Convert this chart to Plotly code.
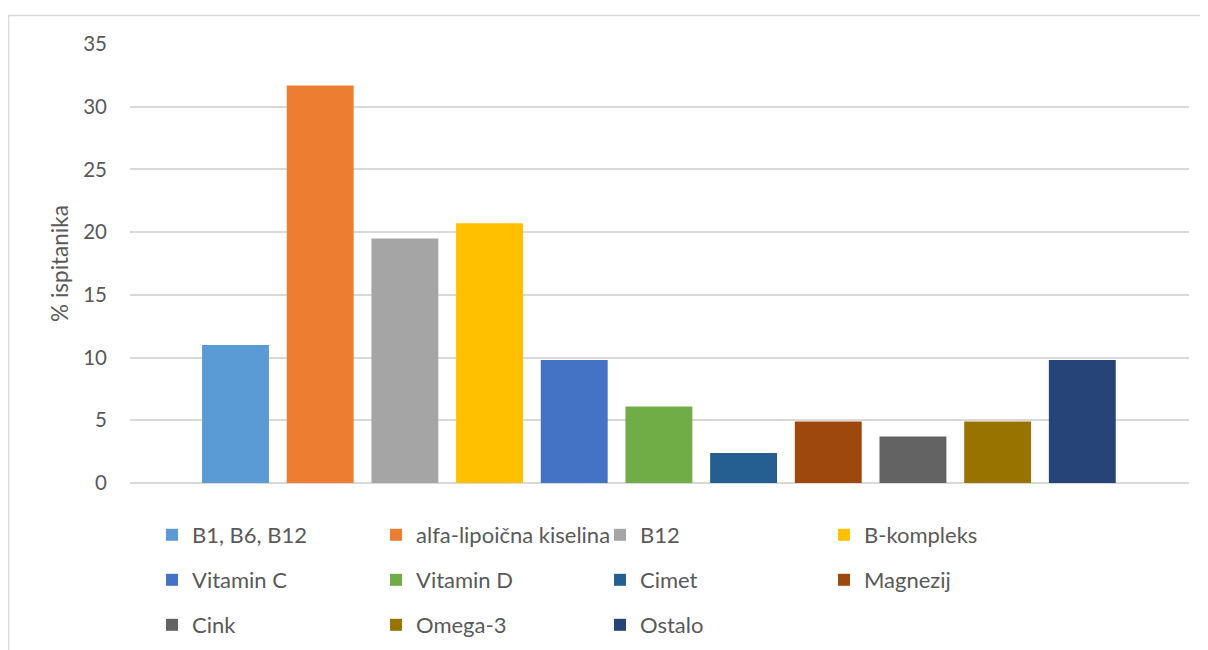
import plotly.graph_objects as go

# Data
categories = ["B1, B6, B12", "alfa-lipoična kiselina", "B12", "B-kompleks",
              "Vitamin C", "Vitamin D", "Cimet", "Magnezij",
              "Cink", "Omega-3", "Ostalo"]
values = [11.0, 31.7, 19.5, 20.7, 9.8, 6.1, 2.4, 4.9, 3.7, 4.9, 9.8]
bar_colors = ["#5B9BD5", "#ED7D31", "#A5A5A5", "#FFC000", "#4472C4", "#70AD47",
              "#255E91", "#9E480E", "#636363", "#997300", "#264478"]
y_ticks = [0, 5, 10, 15, 20, 25, 30, 35]

TEXT = "#595959"
GRID = "#D9D9D9"
FONT = "Lato"
# page has an 8px body margin, so the figure is drawn 8px in from the corner
OFF = 8
W, H = 1208 - OFF, 650 - OFF
L, R, T, B = 122, 19, 36, 167
PW = W - L - R
PH = H - T - B

def px_x(px):
    # reference screenshot pixel -> paper x
    return (px - OFF - L) / PW

def px_y(py):
    return (H - B - (py - OFF)) / PH

def cont_y(py):
    # reference screenshot pixel -> container y
    return 1 - (py - OFF) / H

fig = go.Figure()
legend_ids = ["legend", "legend2", "legend3"]
for i, (cat, val, col) in enumerate(zip(categories, values, bar_colors)):
    fig.add_trace(go.Bar(
        x=[cat], y=[val], name=cat,
        marker=dict(color=col, line=dict(width=0)),
        width=0.79,
        legend=legend_ids[i // 4],
        hovertemplate="%{x}: %{y}<extra></extra>",
    ))

legend_base = dict(
    orientation="h", xanchor="left", yanchor="middle", yref="container",
    x=px_x(152), entrywidth=179, entrywidthmode="pixels",
    font=dict(family=FONT, size=22, color=TEXT),
    bgcolor="rgba(0,0,0,0)", borderwidth=0, itemclick=False,
)
row_y = [535, 580, 625]
legends = {}
for lid, ry in zip(legend_ids, row_y):
    d = dict(legend_base)
    d["y"] = cont_y(ry)
    legends[lid] = d

fig.update_layout(
    width=W, height=H,
    margin=dict(l=L, r=R, t=T, b=B),
    paper_bgcolor="white", plot_bgcolor="white",
    font=dict(family=FONT, size=21, color=TEXT),
    barmode="overlay",
    showlegend=True,
    xaxis=dict(
        categoryorder="array", categoryarray=categories,
        range=[-1.246, 11.26], showticklabels=False, showgrid=False,
        zeroline=False, showline=False, ticks="",
    ),
    yaxis=dict(
        range=[0, 35], tickvals=y_ticks, showgrid=True, gridcolor=GRID, gridwidth=1.5,
        zeroline=True, zerolinecolor=GRID, zerolinewidth=1.5,
        showline=False, ticks="", ticklabelstandoff=22,
        tickfont=dict(family=FONT, size=20.5, color=TEXT),
        title=dict(text="% ispitanika", standoff=8,
                   font=dict(family=FONT, size=22.5, color=TEXT)),
    ),
    **legends,
)

# outer chart-area frame (extends past the visible window)
fig.add_shape(type="rect", xref="paper", yref="paper",
              x0=px_x(8.5), x1=px_x(1300), y0=-0.6, y1=px_y(15.5),
              line=dict(color=GRID, width=1.5), fillcolor="rgba(0,0,0,0)",
              layer="below")

fig.write_html("out.html")
